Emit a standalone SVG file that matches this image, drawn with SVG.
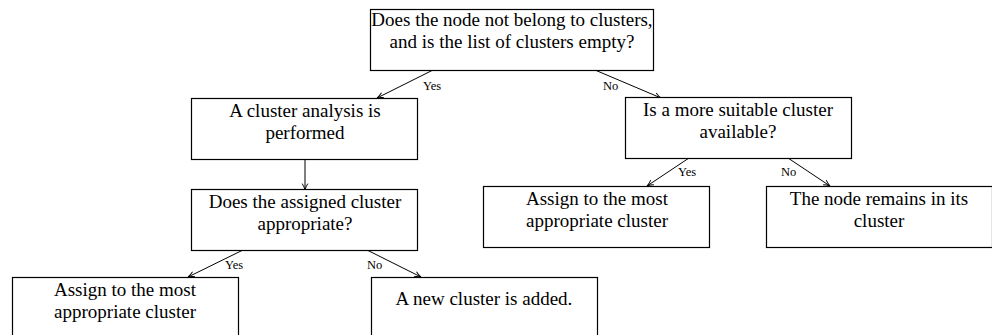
<svg xmlns="http://www.w3.org/2000/svg" width="992" height="335" viewBox="0 0 992 335">
<defs>
<marker id="ah" viewBox="0 0 10 10" refX="9" refY="5" markerWidth="8" markerHeight="8" markerUnits="userSpaceOnUse" orient="auto">
<path d="M1,1.5 Q5,4 9,5 Q5,6 1,8.5" fill="none" stroke="#000" stroke-width="1.2"/>
</marker>
<style>
.box{fill:#fff;stroke:#000;stroke-width:1.2}
.t{font-family:"Liberation Serif","DejaVu Serif",serif;font-size:19px;fill:#000;text-anchor:middle}
.l{font-family:"Liberation Serif","DejaVu Serif",serif;font-size:12.5px;fill:#000}
.c{fill:none;stroke:#000;stroke-width:1;marker-end:url(#ah)}
</style>
</defs>
<rect width="992" height="335" fill="#fff"/>
<g id="connectors">
<line class="c" x1="433" y1="70" x2="377" y2="98"/>
<line class="c" x1="595" y1="70" x2="661" y2="98"/>
<line class="c" x1="305" y1="160" x2="305" y2="190"/>
<line class="c" x1="243" y1="250" x2="188" y2="277"/>
<line class="c" x1="367" y1="250" x2="421" y2="277"/>
<line class="c" x1="689" y1="158" x2="647" y2="186"/>
<line class="c" x1="788" y1="158" x2="830" y2="186"/>
<text class="l" x="423" y="90">Yes</text>
<text class="l" x="603" y="90">No</text>
<text class="l" x="225" y="269">Yes</text>
<text class="l" x="367" y="269">No</text>
<text class="l" x="678" y="176">Yes</text>
<text class="l" x="781" y="176">No</text>
</g>
<g id="n1">
<rect class="box" x="370.5" y="9.5" width="283" height="61"/>
<text class="t" x="512" y="26">Does the node not belong to clusters,</text>
<text class="t" x="512" y="48">and is the list of clusters empty?</text>
</g>
<g id="n2">
<rect class="box" x="191.5" y="98.5" width="226" height="61"/>
<text class="t" x="305" y="117">A cluster analysis is</text>
<text class="t" x="305" y="139">performed</text>
</g>
<g id="n3">
<rect class="box" x="191.5" y="189.5" width="226" height="61"/>
<text class="t" x="305" y="208">Does the assigned cluster</text>
<text class="t" x="305" y="230">appropriate?</text>
</g>
<g id="n4">
<rect class="box" x="12.5" y="277.5" width="226" height="61"/>
<text class="t" x="125" y="296">Assign to the most</text>
<text class="t" x="125" y="318">appropriate cluster</text>
</g>
<g id="n5">
<rect class="box" x="371.5" y="277.5" width="226" height="61"/>
<text class="t" x="484" y="305">A new cluster is added.</text>
</g>
<g id="n6">
<rect class="box" x="625.5" y="97.5" width="226" height="61"/>
<text class="t" x="738" y="116">Is a more suitable cluster</text>
<text class="t" x="738" y="138">available?</text>
</g>
<g id="n7">
<rect class="box" x="483.5" y="186.5" width="226" height="61"/>
<text class="t" x="597" y="205">Assign to the most</text>
<text class="t" x="597" y="227">appropriate cluster</text>
</g>
<g id="n8">
<rect class="box" x="766.5" y="186.5" width="226" height="61"/>
<text class="t" x="879" y="205">The node remains in its</text>
<text class="t" x="879" y="227">cluster</text>
</g>
</svg>
